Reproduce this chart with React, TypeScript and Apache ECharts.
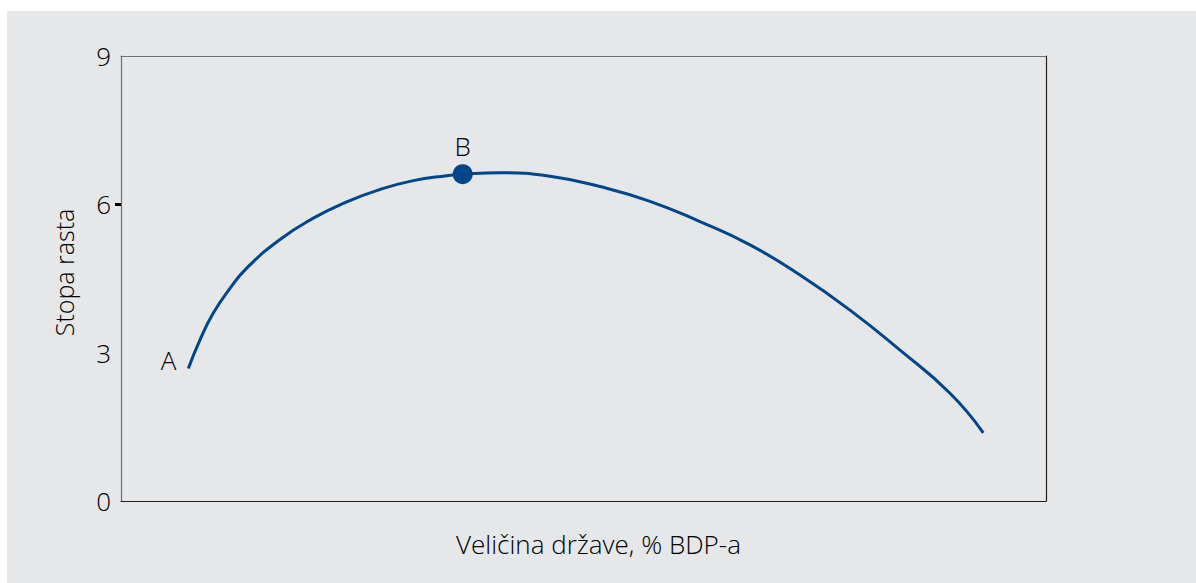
import React, { useEffect, useRef } from "react";
import * as echarts from "echarts";

const curveX = [7.28, 8.54, 9.98, 11.78, 13.59, 17.19, 20.79, 24.4, 28.0, 31.6, 35.21, 36.94, 40.97, 46.38, 51.78, 57.19, 62.59, 68.0, 73.41, 78.81, 84.22, 89.62, 93.22];
const curveY = [2.68, 3.26, 3.8, 4.3, 4.71, 5.29, 5.72, 6.05, 6.3, 6.48, 6.58, 6.61, 6.64, 6.57, 6.36, 6.06, 5.65, 5.18, 4.57, 3.86, 3.05, 2.18, 1.38];
const pointA = [7.28, 2.68];
const pointB = [36.94, 6.61];
const yTicks = [0, 3, 6, 9];
const xTitle = "Veličina države, % BDP-a";
const yTitle = "Stopa rasta";

const FONT = "'Open Sans', 'Noto Sans', sans-serif";
const BLUE = "#00468b";
const TEXT = "#000";

export default function App() {
  const ref = useRef<HTMLDivElement>(null);
  useEffect(() => {
    if (!ref.current) return;
    const chart = echarts.init(ref.current, undefined, { renderer: "svg" });
    const txt = (size: number) => ({ fontSize: size, fontFamily: FONT, fontWeight: 300, color: TEXT });
    chart.setOption({
      animation: false,
      backgroundColor: "transparent",
      grid: { left: 114, top: 45, right: 150, bottom: 82, show: false },
      xAxis: [
        {
          type: "value",
          min: 0,
          max: 100,
          position: "bottom",
          axisLine: { show: true, onZero: false, lineStyle: { color: "#231f20", width: 1.2 } },
          axisTick: { show: false },
          axisLabel: { show: false },
          splitLine: { show: false },
          name: xTitle,
          nameLocation: "middle",
          nameGap: 30,
          nameTextStyle: { ...txt(26), padding: [0, 0, 0, 30] },
        },
        {
          type: "value",
          min: 0,
          max: 100,
          position: "top",
          axisLine: { show: true, onZero: false, lineStyle: { color: "#6d6e71", width: 1.2 } },
          axisTick: { show: false },
          axisLabel: { show: false },
          splitLine: { show: false },
        },
      ],
      yAxis: [
        {
          type: "value",
          min: 0,
          max: 9,
          interval: 3,
          position: "left",
          axisLine: { show: true, onZero: false, lineStyle: { color: "#6d6e71", width: 1.2 } },
          axisTick: {
            show: true,
            customValues: [6],
            length: 6,
            lineStyle: { color: "#000", width: 3 },
          },
          axisLabel: {
            show: true,
            customValues: yTicks,
            margin: 10,
            ...txt(26),
          },
          splitLine: { show: false },
          name: yTitle,
          nameLocation: "middle",
          nameGap: 45,
          nameTextStyle: { ...txt(25), padding: [0, 0, 0, 12] },
        },
        {
          type: "value",
          min: 0,
          max: 9,
          position: "right",
          axisLine: { show: true, onZero: false, lineStyle: { color: "#231f20", width: 1.2 } },
          axisTick: { show: false },
          axisLabel: { show: false },
          splitLine: { show: false },
        },
      ],
      series: [
        {
          type: "line",
          data: curveX.map((x, i) => [x, curveY[i]]),
          smooth: 0.5,
          showSymbol: false,
          symbol: "none",
          lineStyle: { color: BLUE, width: 3 },
          z: 2,
        },
        {
          type: "scatter",
          data: [
            {
              value: pointA,
              symbolSize: 0,
              label: { show: true, formatter: "A", position: "left", distance: 12, offset: [0, -8], ...txt(26) },
            },
            {
              value: pointB,
              symbolSize: 20,
              label: { show: true, formatter: "B", position: "top", distance: 5, ...txt(26) },
            },
          ],
          symbol: "circle",
          itemStyle: { color: BLUE, opacity: 1 },
          z: 3,
        },
      ],
    });
    return () => chart.dispose();
  }, []);
  return (
    <div style={{ position: "fixed", left: 0, top: 0, width: 1196, height: 583, background: "#fff" }}>
      <div
        ref={ref}
        style={{ position: "absolute", left: 7, top: 11, width: 1189, height: 572, background: "#e6e7e9" }}
      />
    </div>
  );
}
